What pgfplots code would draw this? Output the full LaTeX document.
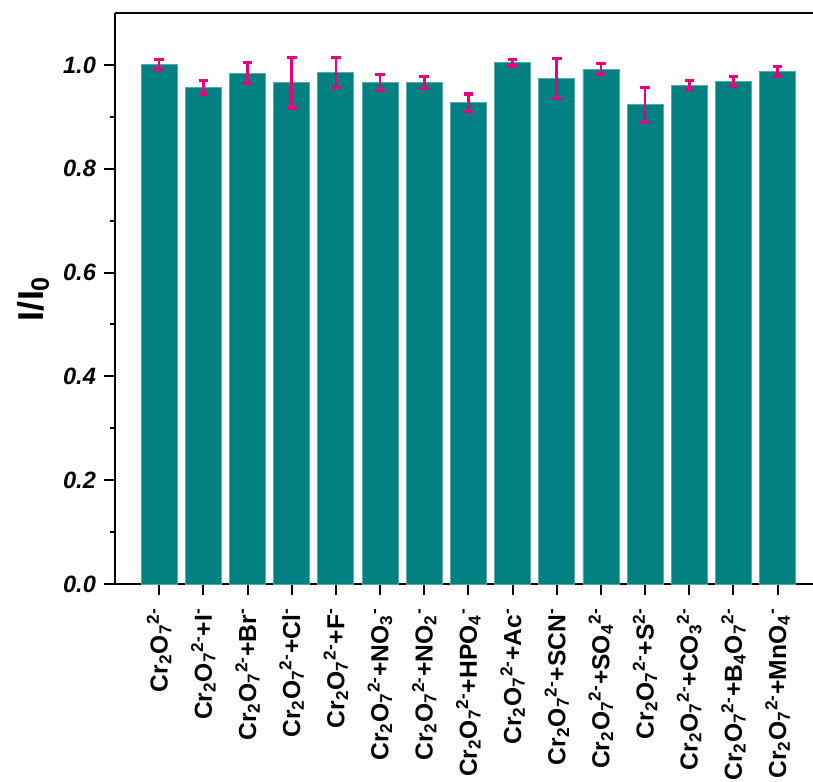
\documentclass[border=0pt]{standalone}
\usepackage{pgfplots}
\pgfplotsset{compat=1.18}
\usepackage{pgfplotstable}
\usepackage{fontspec}
\setmainfont{Liberation Sans}
\definecolor{barteal}{RGB}{0,128,128}
\definecolor{baredge}{RGB}{90,170,170}
\definecolor{errpink}{RGB}{232,0,126}

\pgfplotstableread{
x y e
0 1.001 0.009
1 0.956 0.0135
2 0.984 0.020
3 0.966 0.049
4 0.985 0.029
5 0.966 0.015
6 0.966 0.012
7 0.927 0.017
8 1.004 0.006
9 0.974 0.038
10 0.992 0.011
11 0.923 0.034
12 0.961 0.009
13 0.968 0.0096
14 0.988 0.0096
}\datatable

\newcommand{\cro}{Cr\textsubscript{2}O\textsubscript{7}\textsuperscript{2-}}

\begin{document}
\begin{tikzpicture}
\begin{axis}[
  scale only axis,
  width=349pt, height=285.5pt,
  xmin=-1, xmax=14.8,
  ymin=0, ymax=1.1,
  axis x line*=box, axis y line*=left,
  axis line style={line width=1pt},
  ybar, bar width=18pt,
  xtick={0,...,14},
  xtick pos=bottom,
  ytick={0,0.2,...,1.0},
  minor y tick num=1,
  ytick pos=left,
  tick align=outside,
  major tick length=5.5pt,
  minor tick length=2.5pt,
  tick style={line width=1pt, black},
  /pgf/number format/assume math mode=true,
  /pgf/number format/fixed,
  /pgf/number format/fixed zerofill,
  /pgf/number format/precision=1,
  yticklabel style={font=\bfseries\itshape\fontsize{11.8}{13}\selectfont, xshift=-0.5pt},
  xticklabels={
    {\cro},
    {\cro+I\textsuperscript{-}},
    {\cro+Br\textsuperscript{-}},
    {\cro+Cl\textsuperscript{-}},
    {\cro+F\textsuperscript{-}},
    {\cro+NO\textsubscript{3}\textsuperscript{-}},
    {\cro+NO\textsubscript{2}\textsuperscript{-}},
    {\cro+HPO\textsubscript{4}\textsuperscript{-}},
    {\cro+Ac\textsuperscript{-}},
    {\cro+SCN\textsuperscript{-}},
    {\cro+SO\textsubscript{4}\textsuperscript{2-}},
    {\cro+S\textsuperscript{2-}},
    {\cro+CO\textsubscript{3}\textsuperscript{2-}},
    {\cro+B\textsubscript{4}O\textsubscript{7}\textsuperscript{2-}},
    {\cro+MnO\textsubscript{4}\textsuperscript{-}}
  },
  xticklabel style={rotate=90, anchor=east, font=\bfseries\fontsize{12.3}{14}\selectfont, xshift=-3pt},
  ylabel={I/I\textsubscript{0}},
  ylabel style={at={(axis description cs:0,0.5)}, anchor=center, yshift=41pt, font=\bfseries\fontsize{18}{20}\selectfont},
]
\addplot[fill=barteal, draw=baredge, line width=0.4pt,
  error bars/.cd, y dir=both, y explicit,
  error bar style={errpink, line width=1.3pt},
  error mark options={rotate=90, errpink, line width=1.6pt, mark size=2.4pt}]
  table[x=x, y=y, y error=e] {\datatable};
\coordinate (ll) at (rel axis cs:0,0);
\coordinate (ur) at (rel axis cs:1,1);
\end{axis}
\pgfresetboundingbox
\path ([shift={(-57.5pt,-98.5pt)}]ll) rectangle ([shift={(0pt,6.5pt)}]ur);
\end{tikzpicture}
\end{document}
